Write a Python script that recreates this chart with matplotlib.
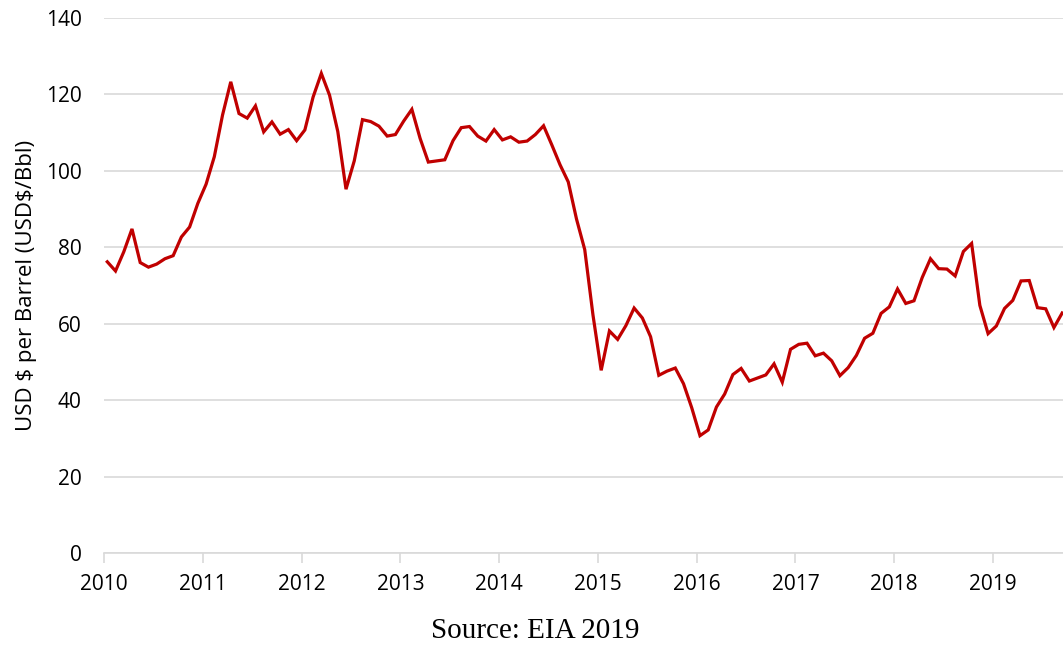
import numpy as np
import matplotlib
matplotlib.use("Agg")
import matplotlib.pyplot as plt

# monthly Brent spot price, Jan 2010 - Sep 2019 (USD/bbl)
p2010 = [76.2, 73.8, 78.8, 84.8, 76.0, 74.8, 75.6, 77.0, 77.8, 82.7, 85.3, 91.5]
p2011 = [96.5, 103.7, 114.6, 123.3, 115.0, 113.8, 117.0, 110.2, 112.8, 109.6, 110.8, 107.9]
p2012 = [110.7, 119.3, 125.5, 119.8, 110.3, 95.2, 102.6, 113.4, 112.9, 111.7, 109.1, 109.5]
p2013 = [113.0, 116.1, 108.5, 102.3, 102.6, 102.9, 107.9, 111.3, 111.6, 109.1, 107.8, 110.8]
p2014 = [108.1, 108.9, 107.5, 107.8, 109.5, 111.8, 106.8, 101.6, 97.1, 87.4, 79.4, 62.3]
p2015 = [47.8, 58.1, 55.9, 59.5, 64.1, 61.5, 56.6, 46.5, 47.6, 48.4, 44.3, 38.0]
p2016 = [30.7, 32.2, 38.2, 41.6, 46.7, 48.3, 45.0, 45.8, 46.6, 49.5, 44.7, 53.3]
p2017 = [54.6, 54.9, 51.6, 52.3, 50.3, 46.4, 48.5, 51.7, 56.2, 57.5, 62.7, 64.4]
p2018 = [69.1, 65.3, 66.0, 72.1, 77.0, 74.4, 74.3, 72.5, 78.9, 81.0, 64.8, 57.4]
p2019 = [59.4, 64.0, 66.1, 71.2, 71.3, 64.2, 63.9, 59.0, 62.8]

prices = p2010 + p2011 + p2012 + p2013 + p2014 + p2015 + p2016 + p2017 + p2018 + p2019
years = list(range(2010, 2020))
yticks = [0, 20, 40, 60, 80, 100, 120, 140]

t = 2010 + (np.arange(len(prices)) + 0.4) / 12

fig = plt.figure(figsize=(10.63, 6.48), dpi=100)
ax = fig.add_axes([104/1063, 1 - 553/648, 1 - 104/1063, (553 - 18)/648])

ax.plot(t, prices, color='#C00000', linewidth=2.3, solid_joinstyle='miter')

ax.set_xlim(2010, 2010 + 959/98.78)
ax.set_ylim(0, 140)
ax.set_yticks(yticks)
ax.set_xticks(years)
ax.grid(axis='y', color='#d9d9d9', linewidth=1.2)
ax.set_axisbelow(True)
for s in ['top', 'right', 'left']:
    ax.spines[s].set_visible(False)
ax.spines['bottom'].set_color('#d9d9d9')
ax.spines['bottom'].set_linewidth(1.2)
ax.tick_params(axis='y', length=0, pad=16, labelsize=15)
ax.tick_params(axis='x', length=7, width=1.2, color='#d9d9d9', pad=8, labelsize=15)
for lab in ax.get_xticklabels() + ax.get_yticklabels():
    lab.set_fontfamily('Open Sans')
ax.set_ylabel(r'USD \$ per Barrel (USD\$/Bbl)', fontsize=16, family='Open Sans')
ax.yaxis.set_label_coords(-(104 - 37) / 959, 0.5)

fig.text(535/1063, 1 - 631/648, 'Source: EIA 2019', ha='center', va='center',
         fontsize=21, family='Liberation Serif')

fig.savefig('out.png', dpi=100)
